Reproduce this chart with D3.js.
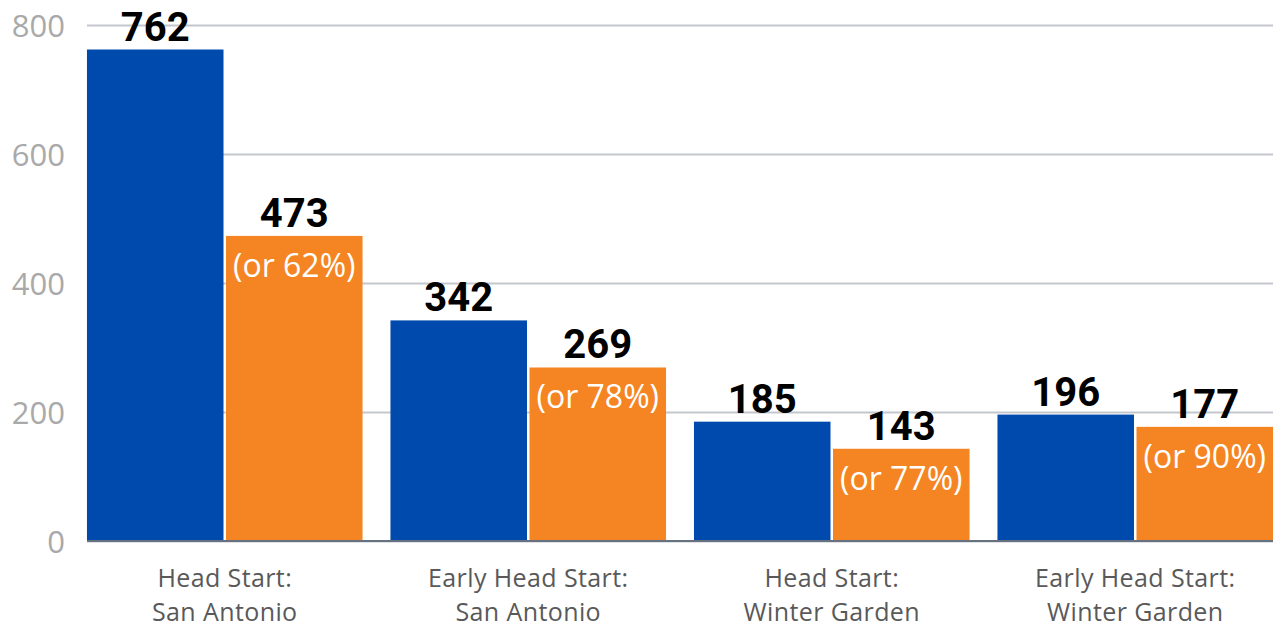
<!DOCTYPE html>
<html>
<head>
<meta charset="utf-8">
<script src="https://cdn.jsdelivr.net/npm/d3@7"></script>
<style>
  html, body { margin: 0; padding: 0; background: #fff; }
  svg { display: block; }
</style>
</head>
<body>
<svg id="chart" width="1278" height="630"></svg>
<script>
const categories = [
  ["Head Start:", "San Antonio"],
  ["Early Head Start:", "San Antonio"],
  ["Head Start:", "Winter Garden"],
  ["Early Head Start:", "Winter Garden"],
];
const totals = [762, 342, 185, 196];
const subsets = [473, 269, 143, 177];
const shares = ["62%", "78%", "77%", "90%"];
const yTicks = [0, 200, 400, 600, 800];
const seriesKeys = ["total", "subset"];

const colors = { total: "#004aad", subset: "#f58422" };

const plotLeft = 87;
const plotRight = 1273;
const plotTop = 25;
const plotBottom = 541;

const rows = categories.map((c, i) => ({
  key: i,
  lines: c,
  total: totals[i],
  subset: subsets[i],
  share: shares[i],
}));

const svg = d3.select("#chart");

const x0 = d3.scaleBand()
  .domain(rows.map(d => d.key))
  .range([plotLeft - 14, plotRight + 14])
  .paddingInner(0.092)
  .paddingOuter(0.046);

const x1 = d3.scaleBand()
  .domain(seriesKeys)
  .range([0, x0.bandwidth()])
  .paddingInner(0.018);

const y = d3.scaleLinear().domain([0, 800]).range([plotBottom, plotTop]);

// gridlines + y tick labels
const yAxis = svg.append("g")
  .attr("transform", `translate(${plotLeft},0)`)
  .call(d3.axisLeft(y)
    .tickValues(yTicks)
    .tickSizeInner(-(plotRight - plotLeft))
    .tickSizeOuter(0)
    .tickPadding(22));

yAxis.select(".domain").remove();
yAxis.selectAll(".tick line")
  .attr("stroke", "#c3c7cd")
  .attr("stroke-width", 2);
yAxis.selectAll(".tick text")
  .attr("fill", "#a9a9a9")
  .attr("dy", "0.36em")
  .style("font-family", "'Open Sans', sans-serif")
  .style("font-size", "31px");

// bars
const group = svg.append("g")
  .selectAll("g")
  .data(rows)
  .join("g")
  .attr("transform", d => `translate(${x0(d.key)},0)`);

group.selectAll("rect")
  .data(d => seriesKeys.map(k => ({ key: k, value: d[k] })))
  .join("rect")
  .attr("x", d => x1(d.key))
  .attr("width", x1.bandwidth())
  .attr("y", d => y(d.value))
  .attr("height", d => y(0) - y(d.value))
  .attr("fill", d => colors[d.key]);

// x axis baseline + category labels
const xAxis = svg.append("g")
  .attr("transform", `translate(0,${plotBottom})`)
  .call(d3.axisBottom(x0).tickSize(0).tickSizeOuter(0).tickFormat(""));

xAxis.select(".domain")
  .attr("stroke", "#66727f")
  .attr("stroke-width", 2)
  .attr("d", `M${plotLeft},0H${plotRight}`);

xAxis.selectAll(".tick text").remove();
xAxis.selectAll(".tick")
  .append("text")
  .attr("fill", "#595959")
  .attr("text-anchor", "middle")
  .style("font-family", "'Open Sans', sans-serif")
  .style("font-size", "25px")
  .style("letter-spacing", "0.4px")
  .selectAll("tspan")
  .data(k => rows[k].lines)
  .join("tspan")
  .attr("x", 0)
  .attr("y", (d, i) => 46 + i * 34)
  .text(d => d);

// value labels above bars
group.selectAll(".value")
  .data(d => seriesKeys.map(k => ({ key: k, value: d[k] })))
  .join("text")
  .attr("class", "value")
  .attr("x", d => x1(d.key) + x1.bandwidth() / 2)
  .attr("y", d => y(d.value) - 9)
  .attr("text-anchor", "middle")
  .attr("fill", "#000")
  .style("font-family", "Roboto, sans-serif")
  .style("font-weight", 700)
  .style("font-size", "40px")
  .text(d => d.value);

// share labels inside orange bars
group.append("text")
  .attr("x", x1("subset") + x1.bandwidth() / 2)
  .attr("y", d => y(d.subset) + 41)
  .attr("text-anchor", "middle")
  .attr("fill", "#fff")
  .style("font-family", "'Open Sans', sans-serif")
  .style("font-size", "32px")
  .text(d => `(or ${d.share})`);
</script>
</body>
</html>
